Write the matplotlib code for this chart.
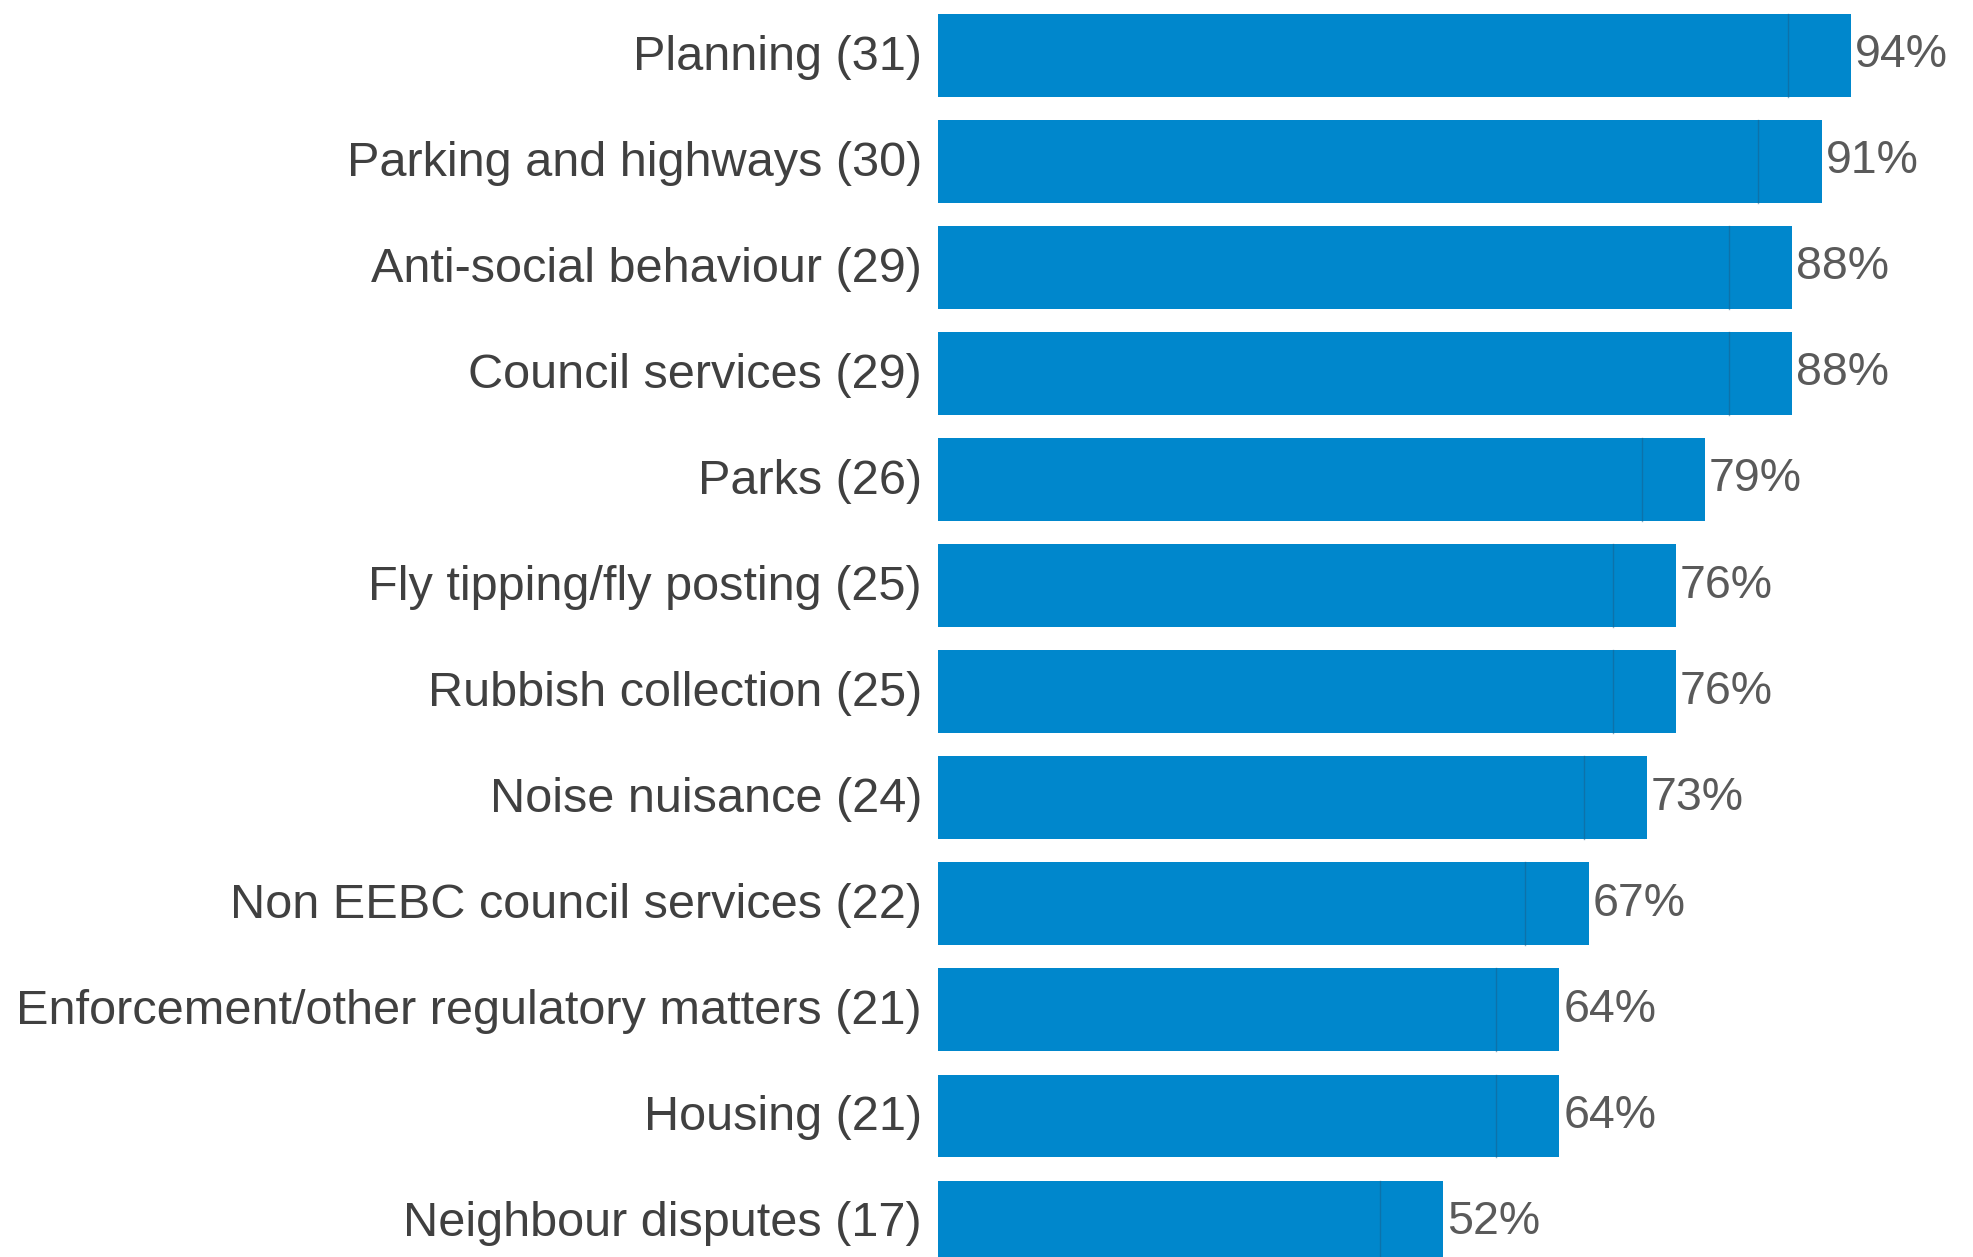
import numpy as np
import matplotlib.pyplot as plt

plt.rcParams['font.family'] = ['Liberation Sans', 'DejaVu Sans']

categories = [
    'Planning (31)',
    'Parking and highways (30)',
    'Anti-social behaviour (29)',
    'Council services (29)',
    'Parks (26)',
    'Fly tipping/fly posting (25)',
    'Rubbish collection (25)',
    'Noise nuisance (24)',
    'Non EEBC council services (22)',
    'Enforcement/other regulatory matters (21)',
    'Housing (21)',
    'Neighbour disputes (17)',
]
percent = [94, 91, 88, 88, 79, 76, 76, 73, 67, 64, 64, 52]

bar_color = '#0087CC'
text_color = '#404040'

fig = plt.figure(figsize=(19.73, 12.57), dpi=100)
ax = fig.add_axes([938 / 1973, 0, 971 / 1973, 1])

y = np.arange(len(categories))
ax.barh(y, percent, height=0.78, color=bar_color, edgecolor='none')

# faint seam near the end of each bar
for yi, v in zip(y, percent):
    ax.plot([v - 6.5, v - 6.5], [yi - 0.39, yi + 0.39], color='#1a5f8a', lw=1, alpha=0.5)

for yi, v, name in zip(y, percent, categories):
    ax.annotate(name, (0, yi), xytext=(-16, -2), textcoords='offset pixels',
                ha='right', va='center', fontsize=35, color=text_color,
                annotation_clip=False)
    ax.annotate(f'{v}%', (v, yi), xytext=(4, 0), textcoords='offset pixels',
                ha='left', va='center', fontsize=33.5, color='#5a5a5a',
                annotation_clip=False)

ax.set_xlim(0, 100)
ax.set_ylim(11.33, -0.52)
ax.axis('off')

fig.savefig('out.png', dpi=100, facecolor='white')
